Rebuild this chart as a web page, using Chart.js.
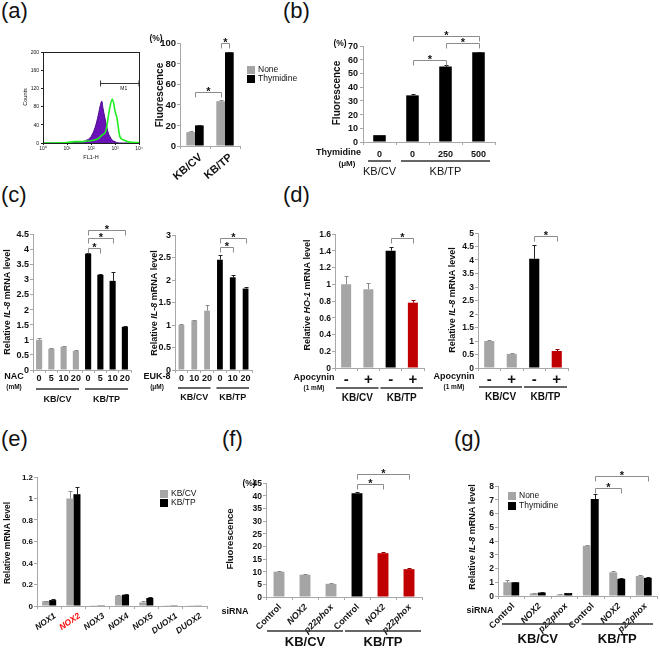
<!DOCTYPE html>
<html>
<head>
<meta charset="utf-8">
<script src="https://cdn.jsdelivr.net/npm/chart.js@4.4.1/dist/chart.umd.min.js"></script>
<style>
  body { margin: 0; background: #fff; }
  #fig { position: relative; width: 660px; height: 648px; overflow: hidden; font-family: "Liberation Sans", Arial, sans-serif; }
  #fig canvas { position: absolute; }
  .tag { position: absolute; font-size: 22px; line-height: 22px; color: #111; }
</style>
</head>
<body>
<div id="fig">
  <div class="tag" style="left:1px;top:0px">(a)</div>
  <div class="tag" style="left:283px;top:0px">(b)</div>
  <div class="tag" style="left:1px;top:184px">(c)</div>
  <div class="tag" style="left:283px;top:184px">(d)</div>
  <div class="tag" style="left:1px;top:428px">(e)</div>
  <div class="tag" style="left:222px;top:428px">(f)</div>
  <div class="tag" style="left:454px;top:428px">(g)</div>
</div>
<script>
const FAM = '"Liberation Sans", Arial, sans-serif';
const GRAY = '#a5a5a5', BLACK = '#000000', RED = '#c00000';
const AXIS = '#a8a8a8';

// ---- (a) flow histogram (FL1-H vs counts) ----
const histBins = [1, 10, 20, 40, 60, 100, 150, 200, 250, 280, 320, 380, 450, 525, 620, 770, 900, 1000, 1175, 1600, 2200, 4000, 10000];
const histCtrl = [0, 0, 1, 2, 5, 14, 35, 61, 85, 92, 75, 55, 36, 22, 14, 6, 4, 3, 1, 0, 0, 0, 0];
const histTP = [0, 1, 3, 3, 4, 5, 7, 10, 14, 17, 19, 22, 35, 58, 80, 96, 85, 70, 58, 14, 7, 2, 1];
const histCountTicks = [0, 40, 80, 120, 160, 200];
const histDecades = [1, 10, 100, 1000, 10000];
const m1Gate = [250, 10000];

// ---- (a) fluorescence bars ----
const cellLines = ['KB/CV', 'KB/TP'];
const fluorNone = [13.5, 43.5];
const fluorNoneErr = [0.6, 1.0];
const fluorThy = [20, 91];
const fluorThyErr = [0.6, 0.6];
const fluorTicks = [0, 20, 40, 60, 80, 100];

// ---- (b) thymidine dose ----
const thyDoses = ['0', '0', '250', '500'];
const thyFluor = [5, 34, 55, 65.5];
const thyFluorErr = [0.2, 0.8, 0.8, 0.4];
const thyTicks = [0, 10, 20, 30, 40, 50, 60, 70];

// ---- (c) NAC / EUK-8 ----
const nacDoses = ['0', '5', '10', '20', '0', '5', '10', '20'];
const nacIL8 = [1.0, 0.7, 0.77, 0.63, 3.85, 3.15, 2.95, 1.43];
const nacIL8Err = [0.05, 0.02, 0.03, 0.02, 0.02, 0.04, 0.28, 0.04];
const nacTicks = [0, 0.5, 1, 1.5, 2, 2.5, 3, 3.5, 4, 4.5];
const eukDoses = ['0', '10', '20', '0', '10', '20'];
const eukIL8 = [1.0, 1.1, 1.32, 2.45, 2.06, 1.81];
const eukIL8Err = [0.03, 0.01, 0.12, 0.1, 0.06, 0.04];
const eukTicks = [0, 0.5, 1, 1.5, 2, 2.5, 3];

// ---- (d) apocynin ----
const apoLevels = ['-', '+', '-', '+'];
const apoHO1 = [1.0, 0.94, 1.4, 0.78];
const apoHO1Err = [0.1, 0.07, 0.04, 0.03];
const ho1Ticks = [0, 0.2, 0.4, 0.6, 0.8, 1, 1.2, 1.4, 1.6];
const apoIL8 = [1.0, 0.52, 4.05, 0.63];
const apoIL8Err = [0.04, 0.04, 0.5, 0.08];
const apoIL8Ticks = [0, 0.5, 1, 1.5, 2, 2.5, 3, 3.5, 4, 4.5, 5];

// ---- (e) NOX family ----
const noxGenes = ['NOX1', 'NOX2', 'NOX3', 'NOX4', 'NOX5', 'DUOX1', 'DUOX2'];
const noxCV = [0.045, 1.0, 0.002, 0.095, 0.033, 0.002, 0.002];
const noxCVErr = [0.005, 0.07, 0, 0.008, 0.015, 0, 0];
const noxTP = [0.055, 1.04, 0.002, 0.105, 0.075, 0.002, 0.003];
const noxTPErr = [0.01, 0.07, 0, 0.008, 0.008, 0, 0];
const noxTicks = [0, 0.2, 0.4, 0.6, 0.8, 1, 1.2];

// ---- (f) siRNA fluorescence ----
const siTargets = ['Control', 'NOX2', 'p22phox', 'Control', 'NOX2', 'p22phox'];
const siFluor = [10, 8.8, 5.2, 41, 17.3, 11];
const siFluorErr = [0.3, 0.3, 0.2, 0.5, 0.5, 0.3];
const siFluorTicks = [0, 5, 10, 15, 20, 25, 30, 35, 40, 45];

// ---- (g) siRNA IL-8 ----
const siIL8None = [1.0, 0.18, 0.1, 3.65, 1.72, 1.45];
const siIL8NoneErr = [0.15, 0.03, 0.02, 0.08, 0.07, 0.08];
const siIL8Thy = [1.0, 0.25, 0.22, 7.05, 1.25, 1.32];
const siIL8ThyErr = [0.05, 0.03, 0.02, 0.4, 0.04, 0.06];
const siIL8Ticks = [0, 1, 2, 3, 4, 5, 6, 7, 8];

const fig = document.getElementById('fig');

function font(size, weight, style) {
  return `${style || ''} ${weight || 'bold'} ${size}px ${FAM}`;
}

function addCanvas(b) {
  const c = document.createElement('canvas');
  c.width = b.w; c.height = b.h;
  c.style.left = b.x + 'px'; c.style.top = b.y + 'px';
  fig.appendChild(c);
  return c;
}

function rich(ctx, parts, x, y, size, weight, rot, align, color) {
  ctx.save();
  ctx.translate(x, y);
  if (rot) ctx.rotate(rot);
  ctx.fillStyle = color || '#111';
  ctx.textBaseline = 'middle';
  ctx.textAlign = 'left';
  const fonts = parts.map(p => font(size, weight, p[1] ? 'italic' : ''));
  const widths = parts.map((p, i) => { ctx.font = fonts[i]; return ctx.measureText(p[0]).width; });
  const total = widths.reduce((a, b) => a + b, 0);
  let cx = align === 'right' ? -total : align === 'left' ? 0 : -total / 2;
  parts.forEach((p, i) => { ctx.font = fonts[i]; ctx.fillText(p[0], cx, 0); cx += widths[i]; });
  ctx.restore();
}

function endX(ch, e) {
  return Array.isArray(e) ? ch.getDatasetMeta(e[0]).data[e[1]].x : ch.scales.x.getPixelForValue(e);
}

function errColor(c) {
  return c === GRAY ? '#8a8a8a' : c === RED ? '#8e0000' : '#222';
}

// annotations: y tick labels, error bars, brackets, group lines, labels, legends (page coords)
function drawExtras(ch, box, ex) {
  const ctx = ch.ctx, xs = ch.scales.x, ys = ch.scales.y;
  const X = v => v + box.x, Y = v => v + box.y;
  ctx.save();
  ctx.translate(-box.x, -box.y);
  ctx.lineWidth = 1;

  if (ex.yt) {
    ctx.font = font(ex.yt.size, ex.yt.w || 'bold');
    ctx.fillStyle = '#111';
    ctx.textAlign = 'right';
    ctx.textBaseline = 'middle';
    ex.yt.values.forEach(v => ctx.fillText(String(v), X(ch.chartArea.left) - ex.yt.gap, Y(ys.getPixelForValue(v)) + 0.5));
  }

  (ex.err || []).forEach((errs, d) => {
    const ds = ch.data.datasets[d];
    ch.getDatasetMeta(d).data.forEach((bar, i) => {
      if (!errs[i]) return;
      const x = Math.round(X(bar.x)) + 0.5;
      const top = Math.round(Y(ys.getPixelForValue(ds.data[i] + errs[i]))) + 0.5;
      const bg = Array.isArray(ds.backgroundColor) ? ds.backgroundColor[i] : ds.backgroundColor;
      ctx.strokeStyle = errColor(bg);
      ctx.beginPath();
      ctx.moveTo(x, Y(bar.y)); ctx.lineTo(x, top);
      ctx.moveTo(x - 2, top); ctx.lineTo(x + 2, top);
      ctx.stroke();
    });
  });

  (ex.brackets || []).forEach(([a, b, lvl]) => {
    const x1 = Math.round(X(endX(ch, a))) + 0.5, x2 = Math.round(X(endX(ch, b))) + 0.5;
    const y = Math.round(Y(ys.getPixelForValue(lvl))) + 0.5;
    ctx.strokeStyle = '#8c8c8c';
    ctx.beginPath();
    ctx.moveTo(x1, y + 5); ctx.lineTo(x1, y); ctx.lineTo(x2, y); ctx.lineTo(x2, y + 5);
    ctx.stroke();
    ctx.fillStyle = '#111'; ctx.font = font(11);
    ctx.textAlign = 'center'; ctx.textBaseline = 'alphabetic';
    ctx.fillText('*', (x1 + x2) / 2, y + 2);
  });

  if (ex.groups) {
    const g = ex.groups;
    const half = (xs.getPixelForValue(1) - xs.getPixelForValue(0)) / 2;
    g.items.forEach(([f, t, label]) => {
      const x1 = X(xs.getPixelForValue(f) - half) + g.inset, x2 = X(xs.getPixelForValue(t) + half) - g.inset;
      ctx.strokeStyle = '#333'; ctx.lineWidth = 1.5;
      ctx.beginPath(); ctx.moveTo(x1, g.y); ctx.lineTo(x2, g.y); ctx.stroke();
      rich(ctx, [[label, 0]], (x1 + x2) / 2, g.ly, g.size, g.weight || 'bold');
    });
    ctx.lineWidth = 1;
  }

  if (ex.legend) {
    const L = ex.legend;
    ch.data.datasets.forEach((ds, d) => {
      const y = L.y + d * L.dy;
      ctx.fillStyle = ds.backgroundColor;
      ctx.fillRect(L.x, y - 4, 8, 8);
      rich(ctx, [[ds.label, 0]], L.x + 11, y, L.size, 'normal', 0, 'left');
    });
  }

  if (ex.frame) {
    const a = ch.chartArea;
    ctx.strokeStyle = '#222';
    ctx.strokeRect(Math.round(X(a.left)) + 0.5, Math.round(Y(a.top)) + 0.5, Math.round(a.right - a.left), Math.round(a.bottom - a.top));
  }

  if (ex.gate) {
    const x1 = X(xs.getPixelForValue(ex.gate.range[0])), x2 = X(xs.getPixelForValue(ex.gate.range[1]));
    const y = Math.round(Y(ys.getPixelForValue(ex.gate.level))) + 0.5;
    ctx.strokeStyle = '#333';
    ctx.beginPath();
    ctx.moveTo(x1, y - 3); ctx.lineTo(x1, y + 3);
    ctx.moveTo(x1, y); ctx.lineTo(x2, y);
    ctx.moveTo(x2, y - 3); ctx.lineTo(x2, y + 3);
    ctx.stroke();
    rich(ctx, [[ex.gate.label, 0]], (x1 + x2) / 2 + 4, y + 5, 5, 'normal');
  }

  (ex.texts || []).forEach(t => {
    rich(ctx, t.parts || [[t.t, 0]], t.x, t.y, t.size, t.w || 'bold', t.rot || 0, t.align);
  });

  if (ex.ytitle) {
    const yt = ex.ytitle;
    rich(ctx, yt.parts, yt.x, yt.y, yt.size, yt.w || 'bold', -Math.PI / 2);
  }
  ctx.restore();
}

// y ticks come from the named tick arrays; labels are painted by drawExtras
function yAxis(values, color, tickLen) {
  return {
    min: values[0], max: values[values.length - 1],
    afterBuildTicks: s => { s.ticks = values.map(v => ({ value: v })); },
    ticks: { display: false },
    grid: { drawOnChartArea: false, drawTicks: true, tickLength: tickLen || 3, color: color || AXIS },
    border: { color: color || AXIS }
  };
}

function xAxis(ticks) {
  return {
    offset: true,
    ticks: Object.assign({ padding: 0, color: '#111', autoSkip: false, minRotation: 0, maxRotation: 0,
      font: { family: FAM, size: 9, weight: 'bold' } }, ticks || {}),
    grid: { offset: true, drawOnChartArea: false, drawTicks: true, tickLength: 3, color: AXIS },
    border: { color: AXIS }
  };
}

function makeChart(box, area, cfg) {
  const yW = area.l - box.x, xH = box.y + box.h - area.b;
  cfg.x.afterFit = s => { s.height = xH; s.paddingLeft = 0; s.paddingRight = 0; };
  cfg.y.afterFit = s => { s.width = yW; s.paddingTop = 0; s.paddingBottom = 0; };
  return new Chart(addCanvas(box), {
    type: cfg.type || 'bar',
    data: cfg.data,
    options: {
      responsive: false,
      animation: false,
      events: [],
      layout: { padding: { left: 0, top: area.t - box.y, right: box.x + box.w - area.r, bottom: 0 } },
      plugins: { legend: { display: false }, tooltip: { enabled: false } },
      scales: { x: cfg.x, y: cfg.y }
    },
    plugins: [{ id: 'extras', afterDraw: ch => drawExtras(ch, box, cfg.ex || {}) }]
  });
}

function bars(data, color, pct, label) {
  return { label, data, backgroundColor: color, categoryPercentage: pct[0], barPercentage: pct[1] };
}

const RELIL8 = [['Relative ', 0], ['IL-8', 1], [' mRNA level', 0]];
const SUP = ['\u2070', '\u00b9', '\u00b2', '\u00b3', '\u2074'];

// (a) histogram
makeChart({ x: 5, y: 40, w: 145, h: 125 }, { l: 43, t: 52, r: 139, b: 143 }, {
  type: 'line',
  data: { datasets: [
    { data: histBins.map((x, i) => ({ x, y: histTP[i] })), borderColor: '#1fef1f', borderWidth: 1.6,
      pointRadius: 0, cubicInterpolationMode: 'monotone', fill: false, order: 0 },
    { data: histBins.map((x, i) => ({ x, y: histCtrl[i] })), borderColor: '#4a0b8a', backgroundColor: '#6a12b8',
      borderWidth: 1, pointRadius: 0, cubicInterpolationMode: 'monotone', fill: 'origin', order: 1 }
  ] },
  x: {
    type: 'logarithmic', min: 1, max: 10000, offset: false,
    afterBuildTicks: s => { s.ticks = histDecades.map(v => ({ value: v })); },
    ticks: { callback: v => '10' + SUP[Math.round(Math.log10(v))], padding: 1, color: '#222', autoSkip: false,
      minRotation: 0, maxRotation: 0, font: { family: FAM, size: 5 } },
    grid: { drawOnChartArea: false, drawTicks: true, tickLength: 2, color: '#222' },
    border: { color: '#222' }
  },
  y: yAxis(histCountTicks, '#222', 2),
  ex: {
    yt: { values: histCountTicks, size: 5, w: 'normal', gap: 4 },
    frame: true,
    gate: { range: m1Gate, level: 131, label: 'M1' },
    texts: [{ t: 'FL1-H', x: 91, y: 157, size: 5.5, w: 'normal' }],
    ytitle: { x: 25, y: 97, size: 5.5, w: 'normal', parts: [['Counts', 0]] }
  }
});

// (a) fluorescence bars
makeChart({ x: 140, y: 28, w: 170, h: 162 }, { l: 180, t: 43, r: 240, b: 146 }, {
  data: { labels: cellLines, datasets: [
    bars(fluorNone, GRAY, [0.58, 1], 'None'),
    bars(fluorThy, BLACK, [0.58, 1], 'Thymidine')
  ] },
  x: xAxis({ minRotation: 40, maxRotation: 40, padding: 2, labelOffset: 6, font: { family: FAM, size: 11, weight: 'bold' } }),
  y: yAxis(fluorTicks),
  ex: {
    yt: { values: fluorTicks, size: 9.5, gap: 4 },
    err: [fluorNoneErr, fluorThyErr],
    brackets: [[0, [0, 1], 52.4], [[0, 1], [1, 1], 100]],
    legend: { x: 247, y: 70, dy: 9, size: 8.5 },
    texts: [{ t: '(%)', x: 156, y: 39, size: 8.5 }],
    ytitle: { x: 160, y: 95, size: 10, parts: [['Fluorescence', 0]] }
  }
});

// (b)
makeChart({ x: 300, y: 28, w: 210, h: 150 }, { l: 363, t: 46, r: 495, b: 142 }, {
  data: { labels: thyDoses, datasets: [bars(thyFluor, BLACK, [1, 0.38])] },
  x: xAxis({ padding: 4 }),
  y: yAxis(thyTicks),
  ex: {
    yt: { values: thyTicks, size: 9, gap: 5 },
    err: [thyFluorErr],
    brackets: [[1, 2, 59.5], [2, 3, 72.2], [1, 3, 77.3]],
    groups: { y: 161, ly: 172, size: 11, weight: 'normal', inset: 5, items: [[0, 0, 'KB/CV'], [1, 3, 'KB/TP']] },
    texts: [
      { t: '(%)', x: 340, y: 44, size: 8.5 },
      { t: 'Thymidine', x: 361, y: 153, size: 9, align: 'right' },
      { t: '(\u03bcM)', x: 347, y: 164, size: 8 }
    ],
    ytitle: { x: 337, y: 93, size: 10, parts: [['Fluorescence', 0]] }
  }
});

// (c) NAC
makeChart({ x: 0, y: 215, w: 140, h: 195 }, { l: 33, t: 234, r: 131, b: 370 }, {
  data: { labels: nacDoses, datasets: [bars(nacIL8, nacDoses.map((_, i) => i < 4 ? GRAY : BLACK), [1, 0.5])] },
  x: xAxis(),
  y: yAxis(nacTicks),
  ex: {
    yt: { values: nacTicks, size: 9, gap: 4 },
    err: [nacIL8Err],
    brackets: [[4, 5, 4.04], [4, 6, 4.37], [4, 7, 4.63]],
    groups: { y: 389, ly: 400, size: 9, inset: 3, items: [[0, 3, 'KB/CV'], [4, 7, 'KB/TP']] },
    texts: [{ t: 'NAC', x: 14, y: 377, size: 9 }, { t: '(mM)', x: 14, y: 387, size: 6.5 }],
    ytitle: { x: 8, y: 302, size: 9, parts: RELIL8 }
  }
});

// (c) EUK-8
makeChart({ x: 140, y: 215, w: 125, h: 195 }, { l: 175, t: 235, r: 252, b: 370 }, {
  data: { labels: eukDoses, datasets: [bars(eukIL8, eukDoses.map((_, i) => i < 3 ? GRAY : BLACK), [1, 0.45])] },
  x: xAxis(),
  y: yAxis(eukTicks),
  ex: {
    yt: { values: eukTicks, size: 9, gap: 4 },
    err: [eukIL8Err],
    brackets: [[3, 4, 2.73], [3, 5, 2.93]],
    groups: { y: 388, ly: 398, size: 9, inset: 3, items: [[0, 2, 'KB/CV'], [3, 5, 'KB/TP']] },
    texts: [{ t: 'EUK-8', x: 157, y: 377, size: 9 }, { t: '(\u03bcM)', x: 157, y: 387, size: 6.5 }],
    ytitle: { x: 155, y: 303, size: 9, parts: RELIL8 }
  }
});

const apoColors = [GRAY, GRAY, BLACK, RED];

// (d) HO-1
makeChart({ x: 285, y: 215, w: 150, h: 195 }, { l: 335, t: 234, r: 424, b: 368 }, {
  data: { labels: apoLevels, datasets: [bars(apoHO1, apoColors, [1, 0.45])] },
  x: xAxis({ font: { family: FAM, size: 15, weight: 'bold' } }),
  y: yAxis(ho1Ticks),
  ex: {
    yt: { values: ho1Ticks, size: 8.5, gap: 4 },
    err: [apoHO1Err],
    brackets: [[2, 3, 1.55]],
    groups: { y: 388, ly: 398, size: 10, inset: 1, items: [[0, 1, 'KB/CV'], [2, 3, 'KB/TP']] },
    texts: [{ t: 'Apocynin', x: 314, y: 378, size: 9 }, { t: '(1 mM)', x: 314, y: 388, size: 6.5 }],
    ytitle: { x: 308, y: 295, size: 9, parts: [['Relative ', 0], ['HO-1', 1], [' mRNA level', 0]] }
  }
});

// (d) IL-8
makeChart({ x: 430, y: 215, w: 150, h: 195 }, { l: 478, t: 233, r: 568, b: 368 }, {
  data: { labels: apoLevels, datasets: [bars(apoIL8, apoColors, [1, 0.45])] },
  x: xAxis({ font: { family: FAM, size: 15, weight: 'bold' } }),
  y: yAxis(apoIL8Ticks),
  ex: {
    yt: { values: apoIL8Ticks, size: 8.5, gap: 4 },
    err: [apoIL8Err],
    brackets: [[2, 3, 4.89]],
    groups: { y: 387, ly: 397, size: 10, inset: 1, items: [[0, 1, 'KB/CV'], [2, 3, 'KB/TP']] },
    texts: [{ t: 'Apocynin', x: 454, y: 377, size: 9 }, { t: '(1 mM)', x: 454, y: 387, size: 6.5 }],
    ytitle: { x: 453, y: 300, size: 9, parts: RELIL8 }
  }
});

// (e)
makeChart({ x: 0, y: 460, w: 215, h: 188 }, { l: 37, t: 477, r: 207, b: 606 }, {
  data: { labels: noxGenes, datasets: [
    bars(noxCV, GRAY, [0.58, 1], 'KB/CV'),
    bars(noxTP, BLACK, [0.58, 1], 'KB/TP')
  ] },
  x: xAxis({ minRotation: 35, maxRotation: 35, padding: 2, labelOffset: 6,
    color: c => c.index === 1 ? '#ff0000' : '#111',
    font: { family: FAM, size: 8.5, weight: 'bold', style: 'italic' } }),
  y: yAxis(noxTicks),
  ex: {
    yt: { values: noxTicks, size: 8, gap: 4 },
    err: [noxCVErr, noxTPErr],
    legend: { x: 160, y: 494, dy: 9, size: 8.5 },
    ytitle: { x: 8, y: 543, size: 8.5, parts: [['Relative mRNA level', 0]] }
  }
});

const siItalic = [1, 2, 4, 5];

// (f)
makeChart({ x: 220, y: 460, w: 220, h: 188 }, { l: 266, t: 483, r: 422, b: 597 }, {
  data: { labels: siTargets, datasets: [bars(siFluor, [GRAY, GRAY, GRAY, BLACK, RED, RED], [1, 0.42])] },
  x: xAxis({ minRotation: 45, maxRotation: 45, padding: 2, labelOffset: 1,
    font: c => ({ family: FAM, size: 9, weight: 'bold', style: siItalic.includes(c.index) ? 'italic' : 'normal' }) }),
  y: yAxis(siFluorTicks),
  ex: {
    yt: { values: siFluorTicks, size: 8.5, gap: 4 },
    err: [siFluorErr],
    brackets: [[3, 4, 44.6], [3, 5, 48.6]],
    groups: { y: 631, ly: 642, size: 13, inset: 1, items: [[0, 2, 'KB/CV'], [3, 5, 'KB/TP']] },
    texts: [{ t: 'siRNA', x: 235, y: 612, size: 9 }, { t: '(%)', x: 249, y: 484, size: 8.5 }],
    ytitle: { x: 230, y: 539, size: 9.5, parts: [['Fluorescence', 0]] }
  }
});

// (g)
makeChart({ x: 440, y: 460, w: 220, h: 188 }, { l: 498, t: 486, r: 657, b: 596 }, {
  data: { labels: siTargets, datasets: [
    bars(siIL8None, GRAY, [0.6, 1], 'None'),
    bars(siIL8Thy, BLACK, [0.6, 1], 'Thymidine')
  ] },
  x: xAxis({ minRotation: 45, maxRotation: 45, padding: 2, labelOffset: 2,
    font: c => ({ family: FAM, size: 9, weight: 'bold', style: siItalic.includes(c.index) ? 'italic' : 'normal' }) }),
  y: yAxis(siIL8Ticks),
  ex: {
    yt: { values: siIL8Ticks, size: 8.5, gap: 4 },
    err: [siIL8NoneErr, siIL8ThyErr],
    brackets: [[[1, 3], [1, 4], 7.85], [[1, 3], [1, 5], 8.73]],
    groups: { y: 624, ly: 639, size: 13, inset: 4, items: [[0, 2, 'KB/CV'], [3, 5, 'KB/TP']] },
    legend: { x: 508, y: 496, dy: 10, size: 8.5 },
    texts: [{ t: 'siRNA', x: 480, y: 611, size: 9 }],
    ytitle: { x: 473, y: 537, size: 9, parts: RELIL8 }
  }
});
</script>
</body>
</html>
